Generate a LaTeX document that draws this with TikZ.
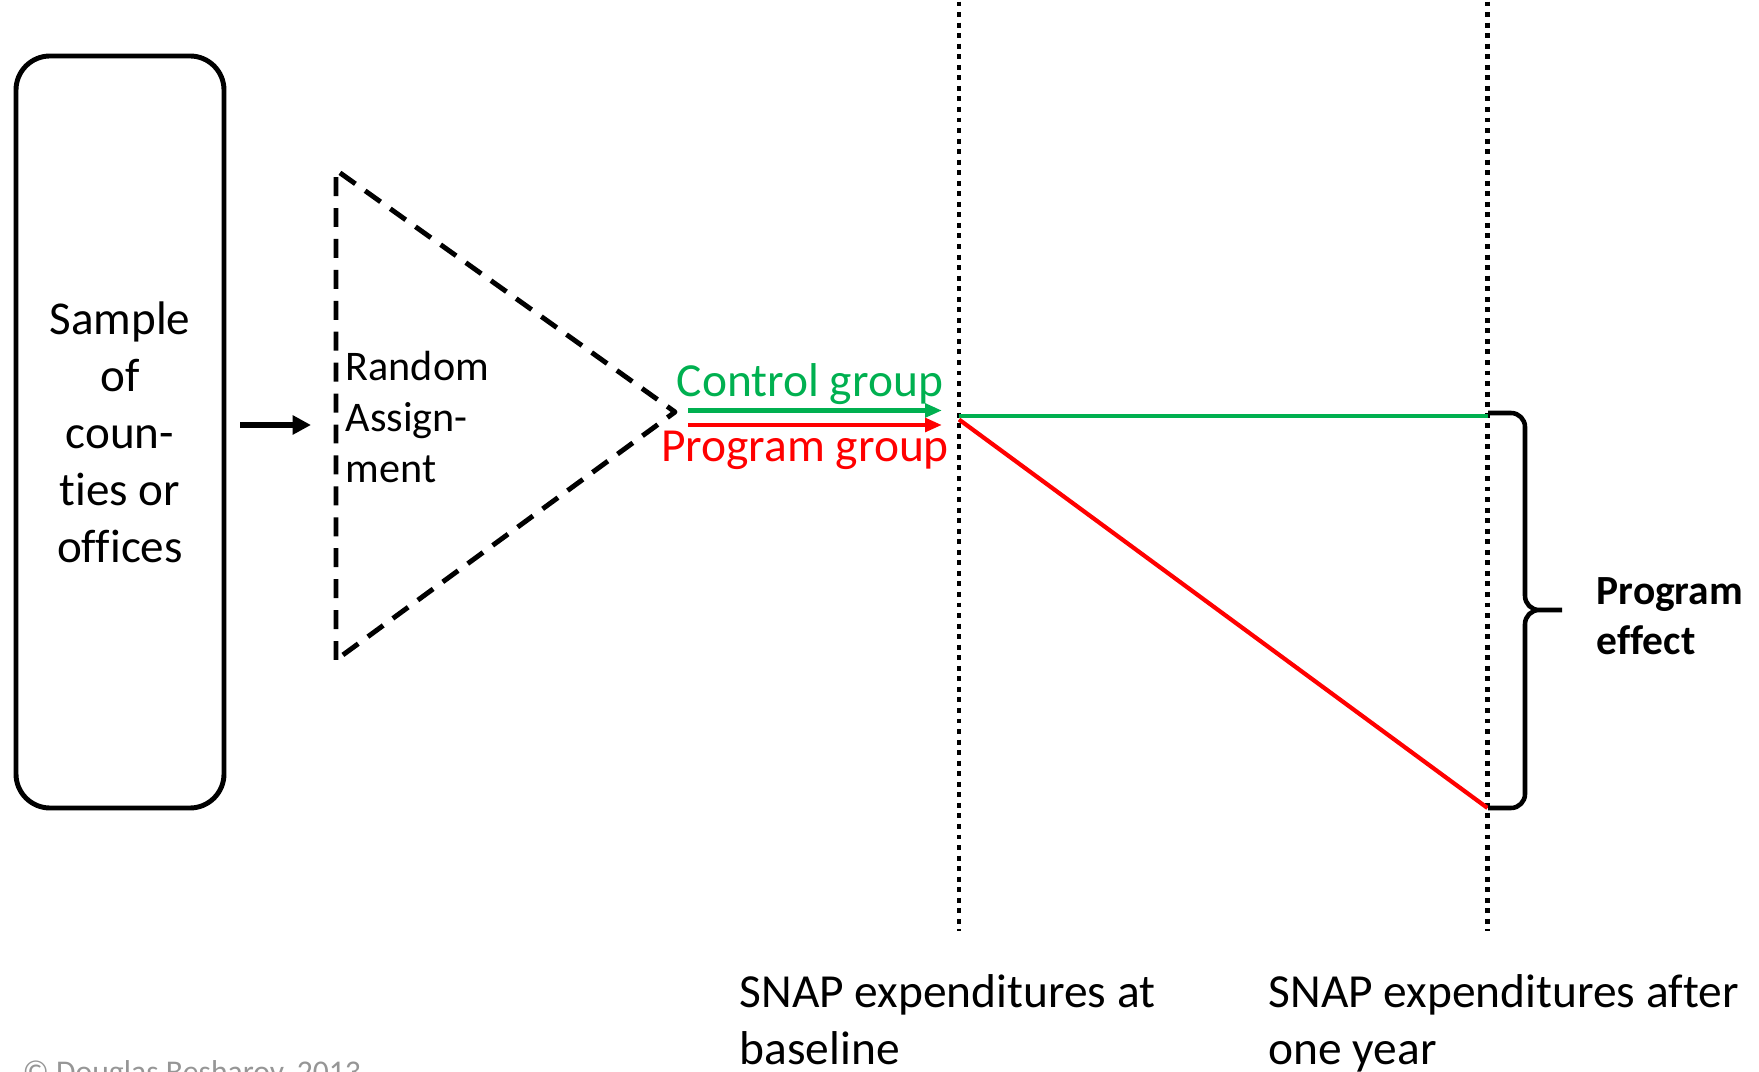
\documentclass[tikz,border=0pt]{standalone}
\usepackage{fontspec}
\setmainfont{Carlito}[Ligatures=NoCommon]
\usetikzlibrary{arrows.meta}
\definecolor{grpgreen}{RGB}{0,176,80}
\definecolor{grpred}{RGB}{255,0,0}
\definecolor{copygray}{RGB}{150,150,150}
\begin{document}
\begin{tikzpicture}[line join=round,>={Triangle[length=5.2pt,width=5.2pt]},
	txt/.style={inner sep=0pt,align=left},
	timeline/.style={line width=1.4pt,dash pattern=on 1.4pt off 1.6pt},
	dashtri/.style={line width=1.4pt,dash pattern=on 5.4pt off 3.4pt},
	grparrow/.style={-{Triangle[length=4.8pt,width=3.8pt]},line width=1.4pt}]
	\useasboundingbox (0,0) rectangle (17.59,10.71);
	% sample box and arrow
	\node[draw,line width=1.4pt,rounded corners=0.34cm,minimum width=2.08cm,minimum height=7.52cm,
		align=center,inner sep=0pt,font=\fontsize{13.4}{16.2}\selectfont] (sample) at (1.2,6.39)
		{Sample\\of\\coun-\\ties or\\offices};
	\coordinate (arrs) at (2.40,6.46);
	\coordinate (arre) at (3.11,6.46);
	\draw[->,line width=1.8pt] (arrs) -- (arre);
	% random assignment triangle
	\coordinate (tritop) at (3.36,9.01);
	\coordinate (tribot) at (3.36,4.11);
	\coordinate (apex) at (6.75,6.59);
	\draw[dashtri] (tribot) -- (tritop) -- (apex) -- cycle;
	\node[txt,anchor=west,font=\fontsize{12}{14.4}\selectfont] (rand) at (3.45,6.54) {Random\\Assign-\\ment};
	% the two groups
	\coordinate (ctrls) at (6.88,6.605);
	\coordinate (ctrle) at (9.42,6.605);
	\coordinate (progs) at (6.88,6.46);
	\coordinate (proge) at (9.42,6.46);
	\draw[grparrow,grpgreen] (ctrls) -- (ctrle);
	\draw[grparrow,grpred] (progs) -- (proge);
	\node[txt,anchor=base,text=grpgreen,font=\fontsize{13.5}{16.2}\selectfont] (ctrl) at (8.1,6.74) {Control group};
	\node[txt,anchor=base,text=grpred,font=\fontsize{13.5}{16.2}\selectfont] (prog) at (8.05,6.09) {Program group};
	% time lines
	\coordinate (t0top) at (9.59,10.8);
	\coordinate (t0bot) at (9.59,1.40);
	\coordinate (t1top) at (14.875,10.8);
	\coordinate (t1bot) at (14.875,1.40);
	\draw[timeline] (t0top) -- (t0bot);
	\draw[timeline] (t1top) -- (t1bot);
	\coordinate (base) at (9.59,6.55);
	\coordinate (ctrlend) at (14.875,6.55);
	\coordinate (progend) at (14.875,2.63);
	\draw[grpgreen,line width=1.2pt] (base) -- (ctrlend);
	\draw[grpred,line width=1.2pt] ([yshift=-1pt]base) -- (progend);
	% brace
	\draw[line width=1.3pt,rounded corners=4pt] (14.88,6.58) -- (15.25,6.58) -- (15.25,4.61) -- (15.62,4.61)
		(15.62,4.61) -- (15.25,4.61) -- (15.25,2.63) -- (14.88,2.63);
	\node[txt,anchor=west,font=\bfseries\fontsize{11.8}{14.2}\selectfont] (effect) at (15.96,4.55) {Program\\effect};
	% bottom labels
	\node[txt,anchor=north west,font=\fontsize{13.5}{16.2}\selectfont] (lab0) at (7.39,0.97) {SNAP expenditures at\\baseline};
	\node[txt,anchor=north west,font=\fontsize{13.5}{16.2}\selectfont] (lab1) at (12.68,0.97) {SNAP expenditures after\\one year};
	\node[anchor=base west,inner sep=0pt,text=copygray,font=\fontsize{9}{11}\selectfont] (copy) at (0.22,-0.11) {© Douglas Besharov, 2013};
\end{tikzpicture}
\end{document}
